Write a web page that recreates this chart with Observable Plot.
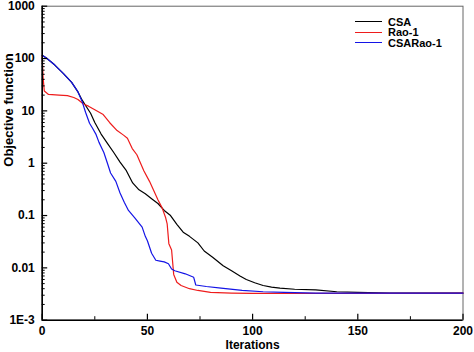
<!DOCTYPE html>
<html><head><meta charset="utf-8">
<script src="https://cdn.jsdelivr.net/npm/d3@7"></script>
<script src="https://cdn.jsdelivr.net/npm/@observablehq/plot@0.6"></script>
<style>
body{margin:0;background:#fff;}
#wrap{position:relative;width:474px;height:352px;}
#chart svg{font-family:"Liberation Sans",Arial,sans-serif;display:block;}
#legend{position:absolute;left:355px;top:16.5px;font-family:"Liberation Sans",Arial,sans-serif;font-weight:bold;font-size:11px;line-height:10.5px;color:#000;}
#legend .row{display:flex;align-items:center;height:10.5px;white-space:nowrap;}
#legend .sw{display:inline-block;width:26.7px;height:0;border-top:1.3px solid #000;margin-right:6.3px;}
</style>
</head><body><div id="wrap"><div id="chart"></div><div id="legend"></div></div>
<script>
// ---- data ----
const seriesNames = ["CSA", "Rao-1", "CSARao-1"];
const seriesColors = ["#000000", "#ee1c1c", "#1414e6"];

const csaIter = [0,2,6,10,14,17,19,21,23,25,28,31,34,37,40,43,46,49,52,55,58,61,64,67,70,74,77,81,86,90,94,97,101,105,109,113,120,130,140,150,165,200];
const csaVal  = [115,102,75,52,35,23,16,12,9,6,3.6,2.4,1.6,1.05,0.72,0.42,0.31,0.26,0.21,0.17,0.125,0.1,0.068,0.048,0.04,0.03,0.021,0.016,0.011,0.0088,0.007,0.006,0.0052,0.0046,0.0043,0.0041,0.0039,0.0038,0.0035,0.0034,0.0033,0.0033];

const raoIter = [0,0.4,1,3,8,12,15,17,19.6,22,25,29,32,35.6,38.8,40.5,42.8,45,48.3,51,53,55,57,58.6,59.4,60.2,61.5,62.5,64,66,70,74,80,90,100,150,200];
const raoVal  = [115,45,24,20.6,20,19.6,18,16.5,13.5,12.3,10.5,8.5,6,4.2,3.4,3,1.9,1.45,0.72,0.45,0.3,0.2,0.14,0.093,0.069,0.029,0.022,0.0075,0.0053,0.0046,0.004,0.0037,0.0034,0.0033,0.00325,0.00325,0.0033];

const hybIter = [0,2,6,10,14,17,19,20.6,22.5,24,25.5,27,29.3,31,32.5,35,37,39,41,44,47.5,49,50,52,54,56,58,60,61.5,63,68,72,73,78,85,95,105,115,130,200];
const hybVal  = [115,102,75,52,35,23,15,9.4,5.8,4.6,3.6,2.5,1.6,1.0,0.65,0.45,0.27,0.18,0.125,0.09,0.06,0.04,0.033,0.019,0.014,0.0135,0.013,0.012,0.0095,0.0088,0.0077,0.0066,0.0047,0.0044,0.0041,0.0037,0.0035,0.0034,0.0033,0.0033];

const xMajorTicks = [0, 50, 100, 150, 200];
const xMinorTicks = [25, 75, 125, 175];
const yMajorTicks = [0.001, 0.01, 0.1, 1, 10, 100, 1000];
const yTickLabels = ["1E-3", "0.01", "0.1", "1", "10", "100", "1000"];

// ---- build ----
const W = 474, H = 352, ML = 41.7, MT = 5.7, MR = 11.5, MB = 32.3;
const FW = W - ML - MR, FH = H - MT - MB;
const iters = [csaIter, raoIter, hybIter];
const vals = [csaVal, raoVal, hybVal];
const data = seriesNames.flatMap((name, s) => iters[s].map((x, i) => ({name, x, y: vals[s][i]})));
const yMinorTicks = yMajorTicks.slice(0, -1).flatMap(d => [2,3,4,5,6,7,8,9].map(k => d * k));
const yFmt = d => yTickLabels[yMajorTicks.indexOf(d)];

const chart = Plot.plot({
  width: W,
  height: H,
  marginLeft: ML,
  marginTop: MT,
  marginRight: MR,
  marginBottom: MB,
  style: {background: "#fff", fontFamily: "Liberation Sans, Arial, sans-serif"},
  x: {domain: [0, 200]},
  y: {type: "log", domain: [0.001, 1000]},
  color: {domain: seriesNames, range: seriesColors},
  marks: [
    Plot.frame({stroke: "#666", strokeWidth: 1}),
    Plot.line(data, {x: "x", y: "y", z: "name", stroke: "name", strokeWidth: 1.2}),
    Plot.tickY(yMajorTicks, {y: d => d, insetRight: FW - 5.5, stroke: "#000", strokeWidth: 1.2}),
    Plot.tickY(yMinorTicks, {y: d => d, insetRight: FW - 3, stroke: "#000", strokeWidth: 1}),
    Plot.tickX(xMajorTicks, {x: d => d, insetTop: FH - 6, stroke: "#000", strokeWidth: 1.2}),
    Plot.tickX(xMinorTicks, {x: d => d, insetTop: FH - 3.5, stroke: "#000", strokeWidth: 1}),
    Plot.ruleX([0], {stroke: "#000", strokeWidth: 1.6}),
    Plot.ruleY([0.001], {stroke: "#000", strokeWidth: 1.6}),
    Plot.axisY(yMajorTicks, {anchor: "left", tickSize: 0, tickPadding: 7.4, tickFormat: yFmt, fontSize: 12, fontWeight: "bold", fill: "#000", label: null}),
    Plot.axisX(xMajorTicks, {anchor: "bottom", tickSize: 0, tickPadding: 6.5, tickFormat: d => String(d), fontSize: 12, fontWeight: "bold", fill: "#000", label: null}),
    Plot.text(["Iterations"], {text: d => d, frameAnchor: "bottom", dy: 28.5, fontSize: 12, fontWeight: "bold", fill: "#000"}),
    Plot.text(["Objective function"], {text: d => d, frameAnchor: "left", rotate: -90, dx: -33, dy: 3.5, fontSize: 13, fontWeight: "bold", fill: "#000"})
  ]
});
document.getElementById("chart").appendChild(chart);

const legend = document.getElementById("legend");
seriesNames.forEach((name, i) => {
  const row = document.createElement("div");
  row.className = "row";
  const sw = document.createElement("span");
  sw.className = "sw";
  sw.style.borderTopColor = seriesColors[i];
  const label = document.createElement("span");
  label.textContent = name;
  row.appendChild(sw);
  row.appendChild(label);
  legend.appendChild(row);
});
</script>
</body></html>
